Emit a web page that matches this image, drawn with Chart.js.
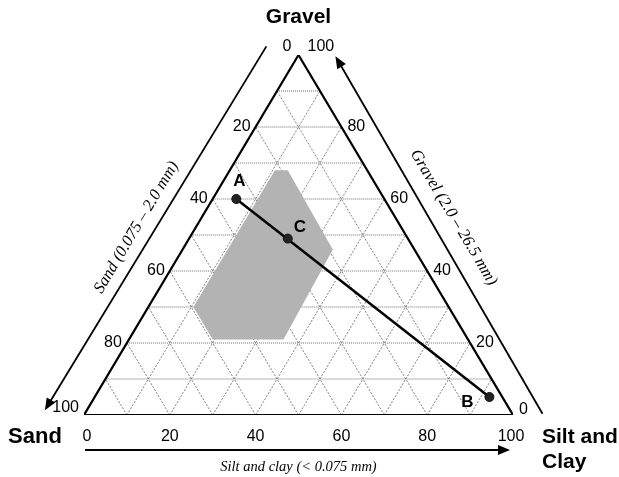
<!DOCTYPE html>
<html>
<head>
<meta charset="utf-8">
<title>Gravel - Sand - Silt and Clay</title>
<script src="https://cdn.jsdelivr.net/npm/chart.js@4.4.1/dist/chart.umd.min.js"></script>
<style>
  html, body { margin: 0; padding: 0; background: #fff; }
  canvas { display: block; }
</style>
</head>
<body>
<canvas id="ternary" width="619" height="477"></canvas>
<script>
// tick labels on each side (percent)
const sandTicks = [0, 20, 40, 60, 80, 100];
const gravelTicks = [0, 20, 40, 60, 80, 100];
const finesTicks = [0, 20, 40, 60, 80, 100];
// grid every 10 %
const gridSteps = [10, 20, 30, 40, 50, 60, 70, 80, 90];

// samples: gravel % and silt+clay %, sand is what is left
const sampleNames = ['A', 'B', 'C'];
const sampleGravel = [60, 5, 49];
const sampleFines = [5.5, 92, 23];

// shaded zone outline
const zoneGravel = [68, 68, 46, 21, 21, 30];
const zoneFines = [10.5, 13.5, 35, 36, 19.5, 10.5];

const labelFont = '"Liberation Sans", Arial, sans-serif';
const titleFont = '"Liberation Serif", "Times New Roman", serif';

// ternary -> cartesian (x along base, y = gravel)
function toXY(fines, gravel) {
    return { x: fines + gravel / 2, y: gravel };
}

const lineBase = { showLine: true, pointRadius: 0, fill: false, borderJoinStyle: 'miter' };
const datasets = [];

// constant gravel lines (horizontal, dotted)
gridSteps.forEach(function (g) {
    datasets.push(Object.assign({}, lineBase, {
        data: [toXY(0, g), toXY(100 - g, g)],
        borderColor: '#6e6e6e', borderWidth: 1, borderDash: [1, 1], order: 6
    }));
});
// constant silt/clay lines
gridSteps.forEach(function (f) {
    datasets.push(Object.assign({}, lineBase, {
        data: [toXY(f, 0), toXY(f, 100 - f)],
        borderColor: '#4a4a4a', borderWidth: 0.7, borderDash: [2, 1.5], order: 6
    }));
});
// constant sand lines
gridSteps.forEach(function (s) {
    datasets.push(Object.assign({}, lineBase, {
        data: [toXY(100 - s, 0), toXY(0, 100 - s)],
        borderColor: '#4a4a4a', borderWidth: 0.7, borderDash: [2, 1.5], order: 6
    }));
});

// shaded zone
const zonePts = zoneGravel.map(function (g, i) { return toXY(zoneFines[i], g); });
zonePts.push(zonePts[0]);
datasets.push(Object.assign({}, lineBase, {
    data: zonePts, fill: 'shape', backgroundColor: '#b3b3b3',
    borderColor: 'rgba(0,0,0,0)', borderWidth: 0, order: 5
}));

// triangle outline
datasets.push(Object.assign({}, lineBase, {
    data: [toXY(0, 0), toXY(100, 0), toXY(0, 100), toXY(0, 0)],
    borderColor: '#000', borderWidth: 2.2, order: 4
}));

// mixing line A - B
datasets.push(Object.assign({}, lineBase, {
    data: [toXY(sampleFines[0], sampleGravel[0]), toXY(sampleFines[1], sampleGravel[1])],
    borderColor: '#000', borderWidth: 2.5, order: 3
}));

// sample points
datasets.push({
    data: sampleGravel.map(function (g, i) { return toXY(sampleFines[i], g); }),
    showLine: false, pointRadius: 4.5, pointBackgroundColor: '#222',
    pointBorderColor: '#111', pointBorderWidth: 1, order: 2
});

function arrowHead(ctx, x, y, dx, dy, len, half) {
    ctx.beginPath();
    ctx.moveTo(x, y);
    ctx.lineTo(x - dx * len - dy * half, y - dy * len + dx * half);
    ctx.lineTo(x - dx * len + dy * half, y - dy * len - dx * half);
    ctx.closePath();
    ctx.fill();
}

// labels, side arrows and titles
const decor = {
    id: 'decor',
    afterDraw: function (chart) {
        const ctx = chart.ctx;
        const sx = chart.scales.x, sy = chart.scales.y;
        const P = function (f, g) {
            const p = toXY(f, g);
            return [sx.getPixelForValue(p.x), sy.getPixelForValue(p.y)];
        };
        const sandV = P(0, 0), finesV = P(100, 0), apex = P(0, 100);

        ctx.save();
        ctx.fillStyle = '#000';
        ctx.strokeStyle = '#000';

        // tick labels
        ctx.font = '16px ' + labelFont;
        ctx.textBaseline = 'middle';
        ctx.textAlign = 'right';
        sandTicks.forEach(function (s) {
            const p = P(0, 100 - s);
            let dy = 0;
            if (s === 0) dy = -8;
            if (s === 100) dy = -7;
            ctx.fillText(String(s), p[0] - (s === 0 ? 7 : 5), p[1] + dy);
        });
        ctx.textAlign = 'left';
        gravelTicks.forEach(function (g) {
            const p = P(100 - g, g);
            let dy = 0;
            if (g === 100) dy = -8;
            if (g === 0) dy = -5;
            ctx.fillText(String(g), p[0] + (g === 100 ? 9 : 6), p[1] + dy);
        });
        ctx.textAlign = 'center';
        finesTicks.forEach(function (f) {
            const p = P(f, 0);
            let dx = 0;
            if (f === 0) dx = 3;
            if (f === 100) dx = -2;
            ctx.fillText(String(f), p[0] + dx, p[1] + 22);
        });

        // corner names
        ctx.font = 'bold 21px ' + labelFont;
        ctx.textAlign = 'center';
        ctx.fillText('Gravel', apex[0], 17);
        ctx.font = 'bold 22px ' + labelFont;
        ctx.fillText('Sand', 35, sandV[1] + 22);
        ctx.font = 'bold 21px ' + labelFont;
        ctx.textAlign = 'left';
        ctx.fillText('Silt and', 542, finesV[1] + 22);
        ctx.fillText('Clay', 542, finesV[1] + 47);

        // sample names
        ctx.font = 'bold 17px ' + labelFont;
        ctx.textAlign = 'center';
        const nameOffset = { A: [3, -18], B: [-22, 5], C: [12, -11] };
        sampleNames.forEach(function (n, i) {
            const p = P(sampleFines[i], sampleGravel[i]);
            ctx.fillText(n, p[0] + nameOffset[n][0], p[1] + nameOffset[n][1]);
        });

        // left side line (sand), arrow down-left
        ctx.lineWidth = 1.8;
        let len = Math.hypot(apex[0] - sandV[0], apex[1] - sandV[1]);
        let u = [(apex[0] - sandV[0]) / len, (apex[1] - sandV[1]) / len];
        let n = [u[1], -u[0]];
        let a = [sandV[0] + u[0] * -16 + n[0] * 36, sandV[1] + u[1] * -16 + n[1] * 36];
        let b = [sandV[0] + u[0] * 410 + n[0] * 32, sandV[1] + u[1] * 410 + n[1] * 32];
        ctx.beginPath();
        ctx.moveTo(b[0], b[1]);
        ctx.lineTo(a[0] + u[0] * 10, a[1] + u[1] * 10);
        ctx.stroke();
        arrowHead(ctx, a[0], a[1], -u[0], -u[1], 12, 5);

        ctx.font = 'italic 16.5px ' + titleFont;
        ctx.textAlign = 'center';
        ctx.textBaseline = 'middle';
        let c = [sandV[0] + u[0] * 188 + n[0] * 51, sandV[1] + u[1] * 188 + n[1] * 51];
        ctx.save();
        ctx.translate(c[0], c[1]);
        ctx.rotate(Math.atan2(u[1], u[0]));
        ctx.fillText('Sand (0.075 \u2013 2.0 mm)', 0, 0);
        ctx.restore();

        // right side line (gravel), arrow up
        len = Math.hypot(apex[0] - finesV[0], apex[1] - finesV[1]);
        u = [(apex[0] - finesV[0]) / len, (apex[1] - finesV[1]) / len];
        n = [-u[1], u[0]];
        a = [finesV[0] + u[0] * -14 + n[0] * 26, finesV[1] + u[1] * -14 + n[1] * 26];
        b = [finesV[0] + u[0] * 399 + n[0] * 31, finesV[1] + u[1] * 399 + n[1] * 31];
        ctx.beginPath();
        ctx.moveTo(a[0], a[1]);
        ctx.lineTo(b[0] - u[0] * 10, b[1] - u[1] * 10);
        ctx.stroke();
        arrowHead(ctx, b[0], b[1], u[0], u[1], 12, 5);

        c = [finesV[0] + u[0] * 200 + n[0] * 50, finesV[1] + u[1] * 200 + n[1] * 50];
        ctx.save();
        ctx.translate(c[0], c[1]);
        ctx.rotate(Math.atan2(-u[1], -u[0]));
        ctx.fillText('Gravel (2.0 \u2013 26.5 mm)', 0, 0);
        ctx.restore();

        // bottom arrow (silt and clay)
        ctx.font = 'italic 14.5px ' + titleFont;
        const yArrow = sandV[1] + 35;
        ctx.beginPath();
        ctx.moveTo(sandV[0] + 1, yArrow);
        ctx.lineTo(finesV[0] - 14, yArrow);
        ctx.stroke();
        arrowHead(ctx, finesV[0] - 3, yArrow, 1, 0, 12, 5);
        ctx.fillText('Silt and clay (< 0.075 mm)', (sandV[0] + finesV[0]) / 2, yArrow + 17);

        ctx.restore();
    }
};

new Chart(document.getElementById('ternary'), {
    type: 'scatter',
    data: { datasets: datasets },
    options: {
        responsive: false,
        devicePixelRatio: 1,
        animation: false,
        events: [],
        layout: { padding: { left: 84, right: 106, top: 55, bottom: 62 } },
        scales: {
            x: { type: 'linear', min: 0, max: 100, display: false },
            y: { type: 'linear', min: 0, max: 100, display: false }
        },
        plugins: {
            legend: { display: false },
            tooltip: { enabled: false }
        }
    },
    plugins: [decor]
});
</script>
</body>
</html>
